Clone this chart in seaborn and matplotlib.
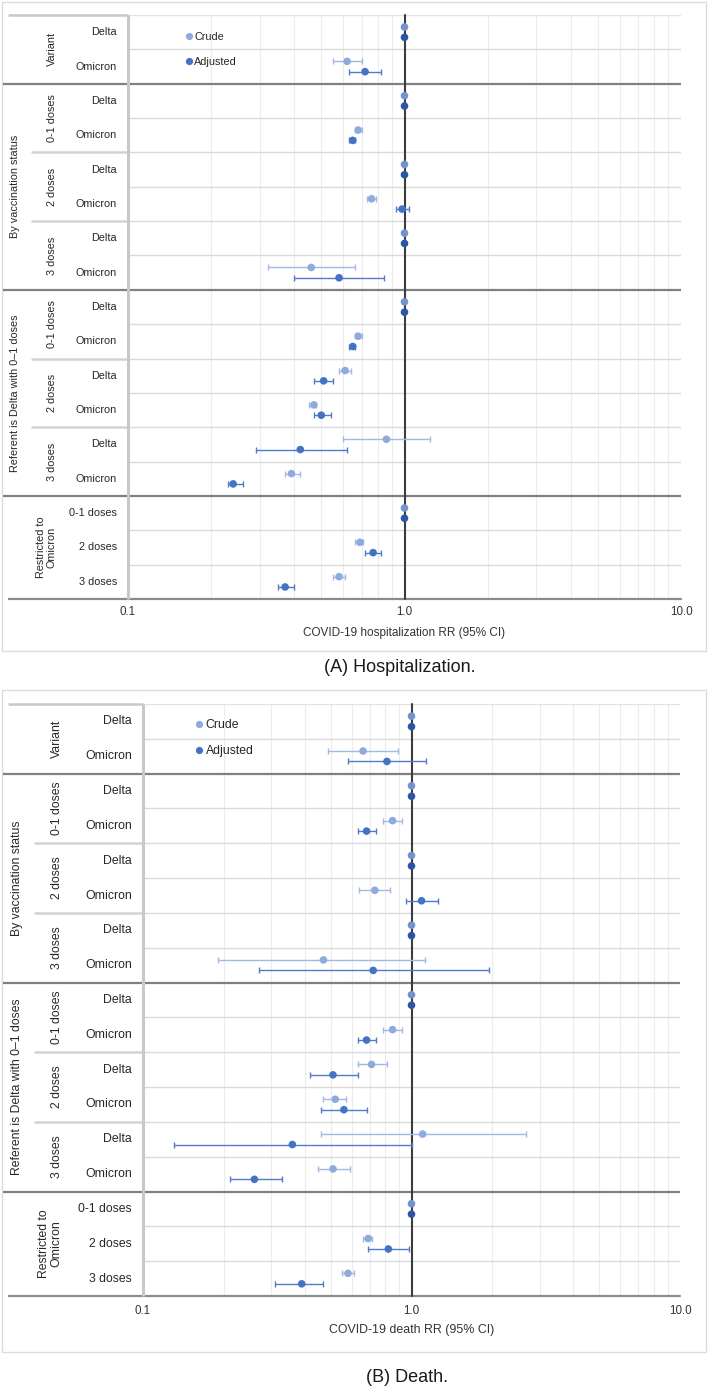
import numpy as np
import pandas as pd
import matplotlib
matplotlib.use("Agg")
import matplotlib.pyplot as plt
import seaborn as sns
from matplotlib.lines import Line2D
from matplotlib.patches import Rectangle
from matplotlib.ticker import LogLocator, NullFormatter, FixedLocator

# ---------------- data ----------------
row_labels = ["Delta", "Omicron"] * 7 + ["0-1 doses", "2 doses", "3 doses"]
subgroup_labels = ["Variant", "0-1 doses", "2 doses", "3 doses", "0-1 doses", "2 doses", "3 doses"]
subgroup_rows = [(0, 1), (2, 3), (4, 5), (6, 7), (8, 9), (10, 11), (12, 13)]
group_labels = ["By vaccination status", "Referent is Delta with 0\u20131 doses", "Restricted to\nOmicron"]
group_rows = [(2, 7), (8, 13), (14, 16)]
series = ["Crude", "Adjusted"]
x_ticks = [0.1, 1.0, 10.0]
x_tick_labels = ["0.1", "1.0", "10.0"]

nan = np.nan
hosp_crude    = [1, 0.62, 1, 0.68, 1, 0.76, 1, 0.46, 1, 0.68, 0.61, 0.47, 0.86, 0.39, 1, 0.69, 0.58]
hosp_crude_lo = [nan, 0.55, nan, 0.66, nan, 0.73, nan, 0.32, nan, 0.66, 0.58, 0.45, 0.60, 0.37, nan, 0.66, 0.55]
hosp_crude_hi = [nan, 0.70, nan, 0.70, nan, 0.79, nan, 0.66, nan, 0.70, 0.64, 0.48, 1.24, 0.42, nan, 0.71, 0.61]
hosp_adj      = [1, 0.72, 1, 0.65, 1, 0.98, 1, 0.58, 1, 0.65, 0.51, 0.50, 0.42, 0.24, 1, 0.77, 0.37]
hosp_adj_lo   = [nan, 0.63, nan, 0.63, nan, 0.93, nan, 0.40, nan, 0.63, 0.47, 0.47, 0.29, 0.23, nan, 0.72, 0.35]
hosp_adj_hi   = [nan, 0.82, nan, 0.66, nan, 1.04, nan, 0.84, nan, 0.66, 0.55, 0.54, 0.62, 0.26, nan, 0.82, 0.40]

death_crude    = [1, 0.66, 1, 0.85, 1, 0.73, 1, 0.47, 1, 0.85, 0.71, 0.52, 1.10, 0.51, 1, 0.69, 0.58]
death_crude_lo = [nan, 0.49, nan, 0.78, nan, 0.64, nan, 0.19, nan, 0.78, 0.63, 0.47, 0.46, 0.45, nan, 0.66, 0.55]
death_crude_hi = [nan, 0.89, nan, 0.92, nan, 0.83, nan, 1.12, nan, 0.92, 0.81, 0.57, 2.66, 0.59, nan, 0.71, 0.61]
death_adj      = [1, 0.81, 1, 0.68, 1, 1.09, 1, 0.72, 1, 0.68, 0.51, 0.56, 0.36, 0.26, 1, 0.82, 0.39]
death_adj_lo   = [nan, 0.58, nan, 0.63, nan, 0.95, nan, 0.27, nan, 0.63, 0.42, 0.46, 0.13, 0.21, nan, 0.69, 0.31]
death_adj_hi   = [nan, 1.13, nan, 0.74, nan, 1.25, nan, 1.94, nan, 0.74, 0.63, 0.68, 1.00, 0.33, nan, 0.98, 0.47]

# ---------------- style ----------------
sns.set_theme(style="white")
plt.rcParams['font.family'] = ['Liberation Sans', 'DejaVu Sans']

C_CRUDE = "#8faadc"
C_ADJ = "#4472c4"
C_CRUDE_REF = "#7393cf"
C_ADJ_REF = "#2c56a5"
palette = {"Crude": C_CRUDE, "Adjusted": C_ADJ,
           "Crude ref": C_CRUDE_REF, "Adjusted ref": C_ADJ_REF}

W, H = 709, 1389
fig = plt.figure(figsize=(W / 100, H / 100), dpi=100)


def box(x0, y0, x1, y1):
    return [x0 / W, 1 - y1 / H, (x1 - x0) / W, (y1 - y0) / H]


over = fig.add_axes([0, 0, 1, 1], zorder=-5)
over.set_xlim(0, W)
over.set_ylim(H, 0)
over.axis("off")

panels = [
    dict(outer=(2, 2, 706, 651), plot=(128, 15, 681, 599), lab_x0=3, top_x0=8,
         sub_x0=31, group_x=15, sub_x=52, row_right=117, restr_x=46,
         fs=7.8, tick_fs=8.4, xl_fs=8.5, tick_y=612.5, xl_y=633, cap_y=668,
         leg=(189, 37.7), leg_gap=25.6,
         crude=hosp_crude, clo=hosp_crude_lo, chi=hosp_crude_hi,
         adj=hosp_adj, alo=hosp_adj_lo, ahi=hosp_adj_hi,
         xlabel="COVID-19 hospitalization RR (95% CI)", caption="(A) Hospitalization."),
    dict(outer=(2, 690, 706, 1352), plot=(143, 704, 680, 1296), lab_x0=3, top_x0=8,
         sub_x0=34, group_x=17, sub_x=57, row_right=132, restr_x=50,
         fs=8.8, tick_fs=8.4, xl_fs=8.9, tick_y=1311, xl_y=1330, cap_y=1377,
         leg=(199, 725), leg_gap=26.7,
         crude=death_crude, clo=death_crude_lo, chi=death_crude_hi,
         adj=death_adj, alo=death_adj_lo, ahi=death_adj_hi,
         xlabel="COVID-19 death RR (95% CI)", caption="(B) Death."),
]

n = len(row_labels)
OFF = 0.15

for P in panels:
    ox0, oy0, ox1, oy1 = P["outer"]
    over.add_patch(Rectangle((ox0, oy0), ox1 - ox0, oy1 - oy0, fill=False,
                             ec="#dcdcdc", lw=1.0))
    px0, py0, px1, py1 = P["plot"]
    over.text((px0 + px1) / 2 - 5, P["cap_y"], P["caption"], fontsize=13,
              ha="center", va="center", color="#1a1a1a")

    ax = fig.add_axes(box(px0, py0, px1, py1))
    lab = fig.add_axes(box(P["lab_x0"], py0, px0, py1))

    # data frame
    rows = np.arange(n)
    df = pd.DataFrame({
        "row": np.concatenate([rows, rows]),
        "Estimate": np.repeat(series, n),
        "RR": np.concatenate([P["crude"], P["adj"]]),
        "lo": np.concatenate([P["clo"], P["alo"]]),
        "hi": np.concatenate([P["chi"], P["ahi"]]),
    })
    df["ypos"] = df["row"] + np.where(df["Estimate"] == "Crude", -OFF, OFF)
    df["key"] = np.where(df["lo"].isna(), df["Estimate"] + " ref", df["Estimate"])

    ax.set_xscale("log")
    ax.set_xlim(0.1, 10)
    ax.set_ylim(n - 0.5, -0.5)
    for s in ax.spines.values():
        s.set_visible(False)

    # vertical minor gridlines
    ax.xaxis.set_major_locator(FixedLocator(x_ticks))
    ax.set_xticklabels(x_tick_labels)
    ax.xaxis.set_minor_locator(LogLocator(base=10, subs=np.arange(2, 10)))
    ax.xaxis.set_minor_formatter(NullFormatter())
    ax.grid(which="minor", axis="x", color="#ececec", lw=0.8, zorder=0)
    ax.grid(which="major", axis="x", visible=False)
    ax.grid(axis="y", visible=False)
    ax.set_yticks([])
    ax.tick_params(axis="x", which="both", length=0, labelsize=P["tick_fs"],
                   colors="#333333", pad=(P["tick_y"] - py1 - 6.5) * 0.72)

    # horizontal row lines
    group_bounds = [1.5, 7.5, 13.5]
    sub_bounds = [3.5, 5.5, 9.5, 11.5]
    for b in np.arange(0.5, n - 0.5, 1.0):
        if b in group_bounds:
            continue
        ax.axhline(b, color="#dadada", lw=1.0, zorder=1)
    ax.axhline(-0.5, color="#e2e2e2", lw=1.0, zorder=1)
    for b in group_bounds:
        ax.axhline(b, color="#808080", lw=1.6, zorder=2)
    ax.axhline(n - 0.5, color="#8c8c8c", lw=1.6, zorder=2, clip_on=False)

    # reference line
    ax.axvline(1.0, color="#3c3c3c", lw=1.5, zorder=3, clip_on=False)

    # error bars
    for est, col in [("Crude", "#a3b9e3"), ("Adjusted", "#4f7bca")]:
        d = df[(df["Estimate"] == est) & df["lo"].notna()]
        ax.errorbar(d["RR"], d["ypos"],
                    xerr=[d["RR"] - d["lo"], d["hi"] - d["RR"]],
                    fmt="none", ecolor=col, elinewidth=1.0, capsize=2.2,
                    capthick=1.0, zorder=4)

    sns.scatterplot(data=df, x="RR", y="ypos", hue="key", palette=palette,
                    s=30, edgecolor="none", linewidth=0, legend=False,
                    ax=ax, zorder=5)
    ax.set_ylim(n - 0.5, -0.5)
    ax.set_xlim(0.1, 10)
    ax.set_ylabel("")
    ax.set_xlabel(P["xlabel"], fontsize=P["xl_fs"], color="#333333")
    ax.xaxis.set_label_coords(0.5, -(P["xl_y"] - py1) / (py1 - py0))
    ax.xaxis.label.set_va("center")

    # legend
    handles = [Line2D([], [], marker="o", ls="", color=c, markersize=5.2,
                      markeredgewidth=0) for c in (C_CRUDE, C_ADJ)]
    lx, ly = P["leg"]
    leg = ax.legend(handles, series, loc="upper left", frameon=False,
                    bbox_to_anchor=((lx - 4.5) / W, 1 - (ly - P["fs"] * 0.7) / H),
                    bbox_transform=fig.transFigure, borderaxespad=0, borderpad=0,
                    handlelength=0.8, handletextpad=0.1,
                    labelspacing=(P["leg_gap"] / (P["fs"] * 1.389)) - 1.0,
                    fontsize=P["fs"])
    for t in leg.get_texts():
        t.set_color("#262626")

    # ----- label area -----
    lab.set_xlim(P["lab_x0"], px0)
    lab.set_ylim(n - 0.5, -0.5)
    lab.axis("off")
    lab.hlines(-0.5, P["top_x0"], px0, color="#c8c8c8", lw=1.8, clip_on=False)
    lab.hlines(n - 0.5, P["top_x0"], px0, color="#8c8c8c", lw=1.6, clip_on=False)
    for b in group_bounds:
        lab.hlines(b, P["lab_x0"], px0, color="#808080", lw=1.6, clip_on=False)
    for b in sub_bounds:
        lab.hlines(b, P["sub_x0"], px0, color="#d2d2d2", lw=1.8, clip_on=False)
    lab.vlines(px0 - 0.5, -0.5, n - 0.5, color="#c8c8c8", lw=2.2, clip_on=False)

    for i, t in enumerate(row_labels):
        lab.text(P["row_right"], i, t, ha="right", va="center",
                 fontsize=P["fs"], color="#262626")
    for t, (a, b) in zip(subgroup_labels, subgroup_rows):
        lab.text(P["sub_x"], (a + b) / 2, t, ha="center", va="center",
                 rotation=90, fontsize=P["fs"], color="#262626")
    for t, (a, b) in zip(group_labels, group_rows):
        x = P["restr_x"] if "\n" in t else P["group_x"]
        lab.text(x, (a + b) / 2, t, ha="center", va="center", rotation=90,
                 fontsize=P["fs"], color="#262626", linespacing=1.1)

fig.savefig("out.png", dpi=100, facecolor="white")
